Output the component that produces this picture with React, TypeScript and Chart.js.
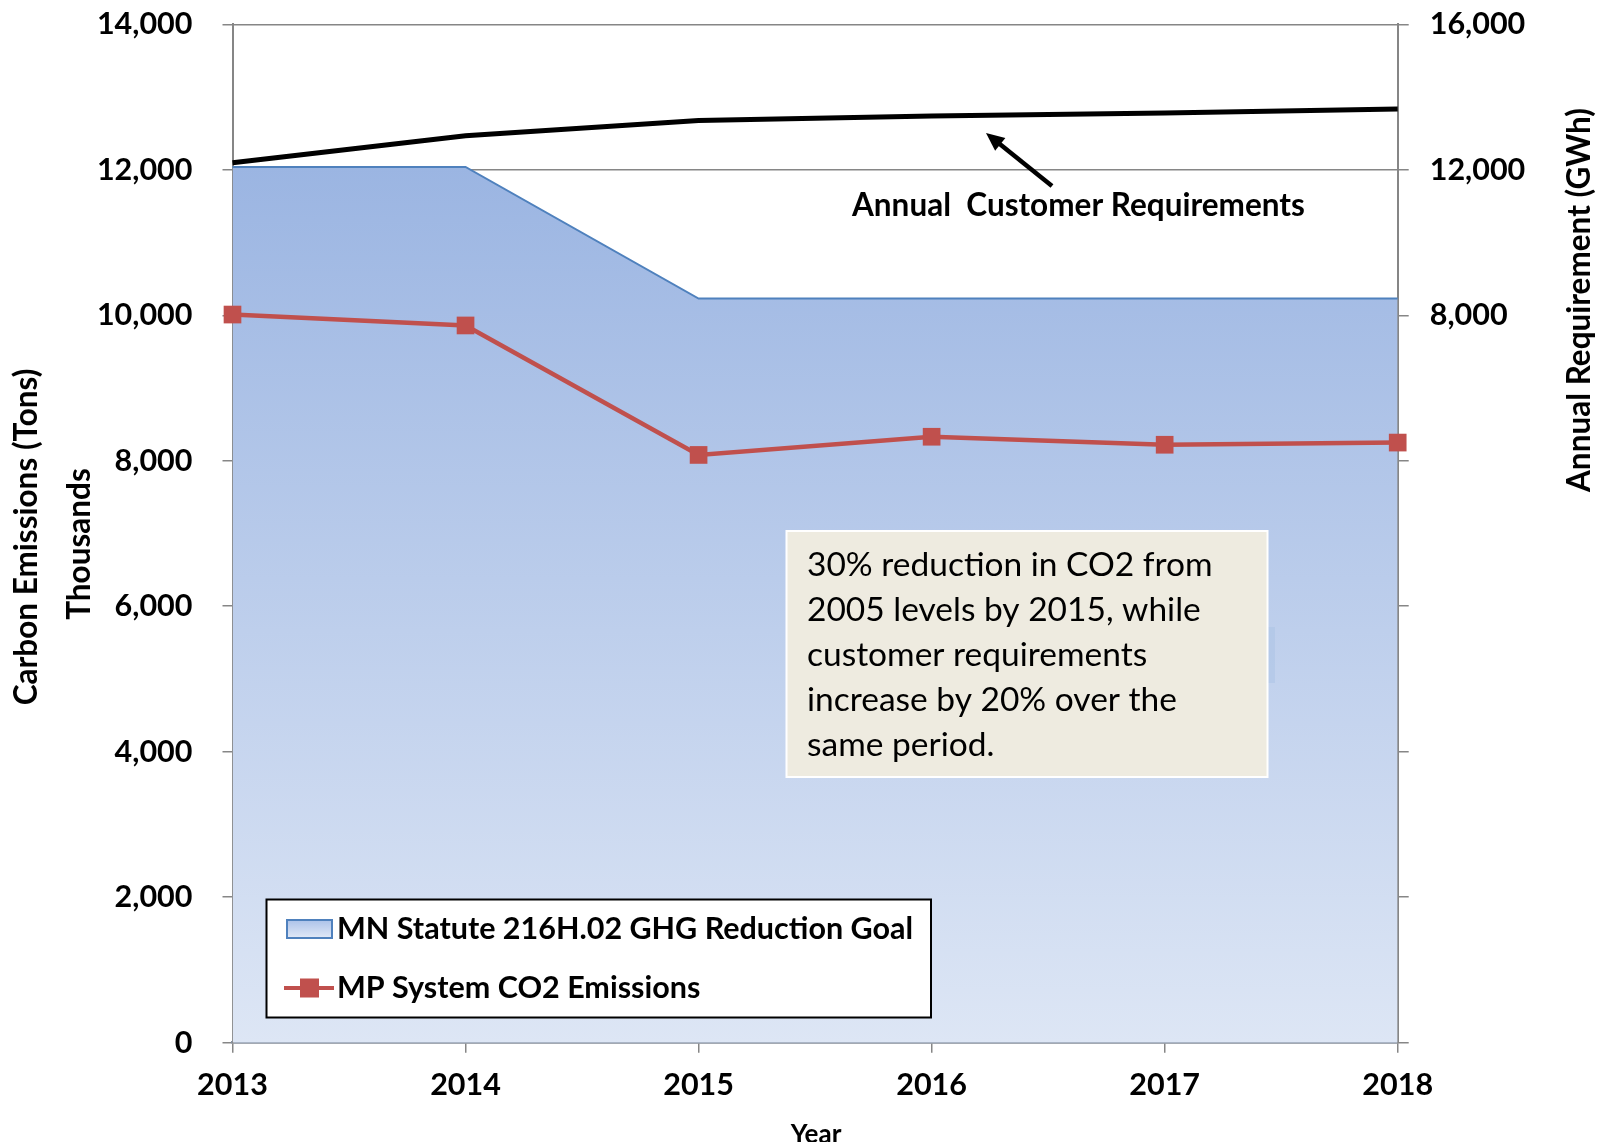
import React, { useEffect, useRef } from 'react';
import Chart from 'chart.js/auto';

// ---- data ----
const years = ['2013', '2014', '2015', '2016', '2017', '2018'];
const goalValues = [12040, 12040, 10230, 10230, 10230, 10230];
const emissionsValues = [10010, 9860, 8080, 8330, 8220, 8250];
const requirementValues = [12195, 12935, 13355, 13480, 13560, 13670];
const rightLabelledTicks = [8000, 12000, 16000];

const goalLabel = 'MN Statute 216H.02 GHG Reduction Goal';
const emissionsLabel = 'MP System CO2 Emissions';
const requirementLabel = 'Annual  Customer Requirements';
const noteLines = [
  '30% reduction in CO2 from',
  '2005 levels by 2015, while',
  'customer requirements',
  'increase by 20% over the',
  'same period.',
];
const leftTitle = ['Carbon Emissions (Tons)', 'Thousands'];
const rightTitle = 'Annual Requirement (GWh)';
const xTitle = 'Year';

const FONT = 'Lato, "Open Sans", sans-serif';
const fmt = (v: number) => v.toLocaleString('en-US');

function areaGradient(chart: any, top: number, bottom: number) {
  const g = chart.ctx.createLinearGradient(0, top, 0, bottom);
  g.addColorStop(0, '#9bb5e2');
  g.addColorStop(1, '#dde6f5');
  return g;
}

const overlayPlugin = {
  id: 'overlay',
  afterDatasetsDraw(chart: any) {
    const ctx = chart.ctx as CanvasRenderingContext2D;
    ctx.save();

    // faint rectangle behind the note
    ctx.fillStyle = 'rgba(168,192,228,0.45)';
    ctx.fillRect(1266, 627, 9, 56);

    // note box
    ctx.fillStyle = '#eeebe0';
    ctx.fillRect(786.5, 531, 481, 246);
    ctx.strokeStyle = '#ffffff';
    ctx.lineWidth = 2;
    ctx.strokeRect(786.5, 531, 481, 246);
    ctx.fillStyle = '#000';
    ctx.font = `400 33.5px ${FONT}`;
    ctx.textAlign = 'left';
    ctx.textBaseline = 'alphabetic';
    noteLines.forEach((l, i) => ctx.fillText(l, 807, 576 + i * 45));

    // requirement annotation + arrow
    ctx.font = `700 31.5px ${FONT}`;
    ctx.fillText(requirementLabel, 852, 216);
    const x0 = 1052, y0 = 186, x1 = 986, y1 = 133;
    const ang = Math.atan2(y1 - y0, x1 - x0);
    ctx.strokeStyle = '#000';
    ctx.lineWidth = 4.5;
    ctx.beginPath();
    ctx.moveTo(x0, y0);
    ctx.lineTo(x1 + 14 * Math.cos(ang + Math.PI), y1 + 14 * Math.sin(ang + Math.PI));
    ctx.stroke();
    ctx.fillStyle = '#000';
    ctx.beginPath();
    ctx.moveTo(x1, y1);
    ctx.lineTo(x1 - 20 * Math.cos(ang - 0.42), y1 - 20 * Math.sin(ang - 0.42));
    ctx.lineTo(x1 - 20 * Math.cos(ang + 0.42), y1 - 20 * Math.sin(ang + 0.42));
    ctx.closePath();
    ctx.fill();

    // legend
    const lx = 266.5, ly = 899.5, lw = 664.5, lh = 118;
    ctx.fillStyle = '#fff';
    ctx.fillRect(lx, ly, lw, lh);
    ctx.strokeStyle = '#000';
    ctx.lineWidth = 2;
    ctx.strokeRect(lx, ly, lw, lh);
    const sg = ctx.createLinearGradient(0, 919, 0, 939);
    sg.addColorStop(0, '#a9c0e8');
    sg.addColorStop(1, '#e4ebf7');
    ctx.fillStyle = sg;
    ctx.fillRect(287, 920, 45, 18);
    ctx.strokeStyle = '#4f81bd';
    ctx.lineWidth = 2;
    ctx.strokeRect(287, 920, 45, 18);
    ctx.strokeStyle = '#c0504d';
    ctx.lineWidth = 4;
    ctx.beginPath();
    ctx.moveTo(284, 988);
    ctx.lineTo(334, 988);
    ctx.stroke();
    ctx.fillStyle = '#c0504d';
    ctx.fillRect(300, 978.5, 19, 19);
    ctx.fillStyle = '#000';
    ctx.font = `700 30.5px ${FONT}`;
    ctx.textBaseline = 'middle';
    ctx.fillText(goalLabel, 337, 929);
    ctx.fillText(emissionsLabel, 337, 988);

    // axis titles
    ctx.textAlign = 'center';
    ctx.font = `700 31.5px ${FONT}`;
    ctx.save();
    ctx.translate(27, 537);
    ctx.rotate(-Math.PI / 2);
    ctx.fillText(leftTitle[0], 0, 0);
    ctx.restore();
    ctx.save();
    ctx.translate(80, 544);
    ctx.rotate(-Math.PI / 2);
    ctx.fillText(leftTitle[1], 0, 0);
    ctx.restore();
    ctx.save();
    ctx.translate(1580, 300);
    ctx.rotate(-Math.PI / 2);
    ctx.fillText(rightTitle, 0, 0);
    ctx.restore();
    ctx.font = `700 26px ${FONT}`;
    ctx.textBaseline = 'alphabetic';
    ctx.fillText(xTitle, 816, 1143);

    ctx.restore();
  },
};

export default function App() {
  const ref = useRef<HTMLCanvasElement | null>(null);

  useEffect(() => {
    if (!ref.current) return;
    const tickFont = { family: FONT, size: 30.5, weight: 'bold' as const };
    const chart = new Chart(ref.current, {
      type: 'line',
      data: {
        labels: years,
        datasets: [
          {
            label: requirementLabel,
            data: requirementValues,
            yAxisID: 'y1',
            borderColor: '#000000',
            borderWidth: 5,
            pointRadius: 0,
            fill: false,
            tension: 0,
            order: 1,
          },
          {
            label: emissionsLabel,
            data: emissionsValues,
            yAxisID: 'y',
            borderColor: '#c0504d',
            backgroundColor: '#c0504d',
            borderWidth: 4.5,
            pointStyle: 'rect',
            pointRadius: 12.5,
            pointBorderWidth: 0,
            pointBackgroundColor: '#c0504d',
            fill: false,
            tension: 0,
            clip: false as any,
            order: 2,
          },
          {
            label: goalLabel,
            data: goalValues,
            yAxisID: 'y',
            borderColor: '#4f81bd',
            borderWidth: 2,
            pointRadius: 0,
            fill: 'origin',
            tension: 0,
            order: 3,
            backgroundColor: (c: any) => {
              const ch = c.chart;
              if (!ch.chartArea) return '#b4c7ea';
              const top = ch.scales.y.getPixelForValue(Math.max(...goalValues));
              return areaGradient(ch, top, ch.chartArea.bottom);
            },
          },
        ],
      },
      options: {
        responsive: false,
        animation: false,
        devicePixelRatio: 1,
        layout: { padding: { top: 24.3, left: 0, right: 0, bottom: 0 } },
        plugins: {
          legend: { display: false },
          tooltip: { enabled: false },
          title: { display: false },
        },
        scales: {
          x: {
            type: 'category',
            offset: false,
            grid: {
              drawOnChartArea: false,
              drawTicks: true,
              tickLength: 10,
              color: '#868686',
              lineWidth: 1.5,
            },
            border: { display: true, color: '#8591a3', width: 2.5 },
            ticks: {
              color: '#000',
              font: tickFont,
              padding: 14,
              maxRotation: 0,
              autoSkip: false,
            },
            afterFit: (s: any) => {
              s.height = 99.3;
              s.paddingLeft = 0;
              s.paddingRight = 0;
            },
          },
          y: {
            position: 'left',
            min: 0,
            max: 14000,
            grid: {
              color: '#868686',
              lineWidth: 1.5,
              tickLength: 10,
            },
            border: { display: true, color: '#868686', width: 2 },
            ticks: {
              stepSize: 2000,
              color: '#000',
              font: tickFont,
              padding: 30,
              callback: (v: any) => fmt(Number(v)),
            },
            afterFit: (s: any) => {
              s.width = 232.5;
              s.paddingTop = 0;
              s.paddingBottom = 0;
            },
          },
          y1: {
            position: 'right',
            min: -12000,
            max: 16000,
            grid: {
              drawOnChartArea: false,
              color: '#868686',
              lineWidth: 1.5,
              tickLength: 11,
            },
            border: { display: true, color: '#868686', width: 2 },
            ticks: {
              stepSize: 4000,
              color: '#000',
              font: tickFont,
              padding: 21,
              callback: (v: any) =>
                rightLabelledTicks.includes(Number(v)) ? fmt(Number(v)) : '',
            },
            afterFit: (s: any) => {
              s.width = 203.3;
              s.paddingTop = 0;
              s.paddingBottom = 0;
            },
          },
        },
      },
      plugins: [overlayPlugin],
    });
    return () => chart.destroy();
  }, []);

  return (
    <div style={{ position: 'fixed', left: 0, top: 0, width: 1601, height: 1142, background: '#fff' }}>
      <canvas ref={ref} width={1601} height={1142} style={{ display: 'block' }} />
    </div>
  );
}
